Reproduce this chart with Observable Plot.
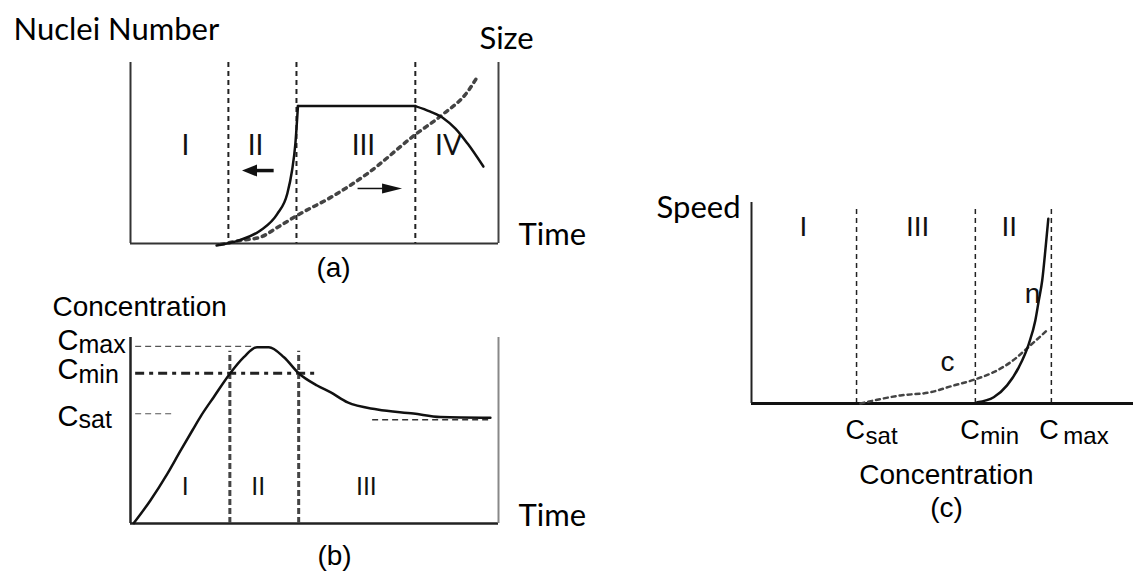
<!DOCTYPE html>
<html>
<head>
<meta charset="utf-8">
<script src="https://cdn.jsdelivr.net/npm/d3@7"></script>
<script src="https://cdn.jsdelivr.net/npm/@observablehq/plot@0.6"></script>
<style>
  html, body { margin: 0; padding: 0; background: #fff; }
  #fig { position: relative; width: 1133px; height: 573px; overflow: hidden; background: #fff; }
</style>
</head>
<body>
<div id="fig"></div>
<script>
// ================= DATA =================
// ---- Panel (a): nuclei number / size vs time ----
const phaseBoundsA = [26.6, 45.1, 77.4];
const phaseNamesA = ["I", "II", "III", "IV"];
const phaseNameXA = [14.9, 34, 63.3, 86.4];
const phaseNameYA = 54;
const nucleiTime = [23.4, 29.9, 35.3, 39.9, 42.6, 43.9, 44.8, 45.5, 45.5, 77.4, 77.4, 81.5, 85.1, 88.3, 91.6, 95.9];
const nucleiNum  = [-1.1, 2.0, 7.2, 16.4, 27.5, 40.3, 55.1, 75.9, 75.9, 75.9, 75.9, 72.8, 69.1, 63.5, 55.2, 42.5];
const nucleiSeg  = ["growth", "growth", "growth", "growth", "growth", "growth", "growth", "growth",
                    "plateau", "plateau", "ripening", "ripening", "ripening", "ripening", "ripening", "ripening"];
const sizeTime = [24.5, 29.9, 35.3, 40, 45.3, 55.3, 64.3, 77.4, 85.1, 91.5, 94.2];
const sizeVal  = [-0.5, 1.7, 3.5, 9, 15.5, 26.5, 38.5, 60.2, 71.7, 83.6, 91.9];
const arrowFromA = [38.9, 61.7];
const arrowShaftToA = [33.0, 68.5];
const arrowTipA = [30.3, 73.8];
const arrowYA = [40.3, 30.4];

// ---- Panel (b): concentration vs time ----
const phaseBoundsB = [27, 45.7];
const phaseTopB = 92.6;
const phaseNamesB = ["I", "II", "III"];
const phaseNameXB = [14.9, 34.7, 64.1];
const phaseNameYB = 19.5;
const cLevelNamesB = ["max", "min", "sat"];
const cLevelsB = [95.2, 80.8, 59.0];
const cLineFromB = [1.4, 1.4, 1.4];
const cLineToB = [33.4, 50.8, 12.2];
const satPlateauB = 55.8;
const satPlateauFromB = 65.8;
const satPlateauToB = 98.4;
const timeB = [0.9, 5.4, 10, 13.6, 16.8, 19.2, 22.6, 27, 30.8, 34.4, 37.6, 41.7, 45.7, 50.7, 54.3, 59, 67.1, 76.9, 84.2, 97.8];
const concB = [0.2, 12.4, 26.7, 39.2, 50, 58, 67.9, 80.5, 89.4, 94.8, 94.8, 89.4, 80.8, 74.2, 70.6, 65.1, 61.3, 59.1, 57.2, 56.8];

// ---- Panel (c): speed vs concentration ----
const cLevelNamesC = ["sat", "min", "max"];
const cLevelsC = [27.5, 58.6, 78.5];
const cLevelTopC = 97;
const phaseNamesC = ["I", "III", "II"];
const phaseNameXC = [13.6, 43.5, 67.5];
const phaseNameYC = 87.6;
const nucX = [59.1, 63.4, 66.9, 70, 72.6, 74.3, 75.2, 76.1, 77, 77.7];
const nucY = [0.6, 3.1, 9, 18.1, 29.7, 41.3, 51.2, 61.2, 77.8, 91.9];
const crysX = [28.5, 39, 46.9, 52.1, 58.2, 63.4, 67.8, 73, 77.8];
const crysY = [0, 4, 5.6, 8.5, 11.8, 15.6, 20.5, 28.9, 37.2];
const curveNamesC = ["n", "c"];
const curveNameXC = [73.6, 51.3];
const curveNameYC = [54.7, 20.4];

// ================= STYLES =================
const CAL = "Lato, 'Open Sans', sans-serif";
const ARIAL = "'Liberation Sans', Arial, sans-serif";
const fig = document.getElementById("fig");
const pos = (l, t) => ({position: "absolute", left: l + "px", top: t + "px", background: "transparent", overflow: "visible"});

// custom filled arrow heads (tip at origin)
const headLeft = {draw(ctx) { ctx.moveTo(0, 0); ctx.lineTo(15, -6); ctx.lineTo(15, 6); ctx.closePath(); }};
const headRight = {draw(ctx) { ctx.moveTo(0, 0); ctx.lineTo(-20, -5); ctx.lineTo(-20, 5); ctx.closePath(); }};

// ================= PANEL (a) =================
const plotA = Plot.plot({
  width: 600, height: 290,
  marginLeft: 130, marginRight: 102, marginTop: 62, marginBottom: 47,
  x: {domain: [0, 100], axis: null},
  y: {domain: [0, 100], axis: null},
  style: pos(0, 0),
  marks: [
    Plot.ruleY([0], {stroke: "#333", strokeWidth: 2}),
    Plot.ruleX([0], {stroke: "#333", strokeWidth: 2}),
    Plot.ruleX([100], {stroke: "#444", strokeWidth: 2}),
    Plot.ruleX(phaseBoundsA, {stroke: "#222", strokeWidth: 2, strokeDasharray: "5,4"}),
    Plot.line(sizeVal, {x: sizeTime, y: sizeVal, curve: "monotone-x", stroke: "#444", strokeWidth: 3.5, strokeDasharray: "3.5,5"}),
    Plot.line(nucleiNum, {x: nucleiTime, y: nucleiNum, z: nucleiSeg, curve: "monotone-x", stroke: "#111", strokeWidth: 2.5}),
    Plot.link(arrowYA, {x1: arrowFromA, x2: arrowShaftToA, y1: arrowYA, y2: arrowYA, stroke: "#111", strokeWidth: [3.5, 1.5]}),
    Plot.dot([arrowYA[0]], {x: [arrowTipA[0]], y: [arrowYA[0]], symbol: headLeft, fill: "#111", stroke: "none"}),
    Plot.dot([arrowYA[1]], {x: [arrowTipA[1]], y: [arrowYA[1]], symbol: headRight, fill: "#111", stroke: "none"}),
    Plot.text(phaseNamesA, {x: phaseNameXA, y: phaseNameYA, fontSize: 28, fontFamily: CAL, fill: "#111"}),
    Plot.text(["Nuclei Number"], {frameAnchor: "top-left", textAnchor: "start", lineAnchor: "bottom", dx: -117, dy: -23, fontSize: 31, fontFamily: CAL, fill: "#000"}),
    Plot.text(["Size"], {frameAnchor: "top-right", textAnchor: "start", lineAnchor: "bottom", dx: -19, dy: -14, fontSize: 31, fontFamily: CAL, fill: "#000"}),
    Plot.text(["Time"], {frameAnchor: "bottom-right", textAnchor: "start", lineAnchor: "bottom", dx: 20, dy: 1, fontSize: 31, fontFamily: CAL, fill: "#000"}),
    Plot.text(["(a)"], {frameAnchor: "bottom", lineAnchor: "middle", dx: 19, dy: 25, fontSize: 28, fontFamily: ARIAL, fill: "#000"})
  ]
});
fig.appendChild(plotA);

// ================= PANEL (b) =================
const cDyB = [-6, -3, 3];
const subDyB = [-1, 2, 6];
const plotB = Plot.plot({
  width: 600, height: 283,
  marginLeft: 130, marginRight: 102, marginTop: 47, marginBottom: 50,
  x: {domain: [0, 100], axis: null},
  y: {domain: [0, 100], axis: null},
  style: pos(0, 290),
  marks: [
    Plot.ruleY([0], {stroke: "#222", strokeWidth: 2.5}),
    Plot.ruleX([0], {stroke: "#222", strokeWidth: 2.5}),
    Plot.ruleX([100], {stroke: "#888", strokeWidth: 2}),
    Plot.ruleY([cLevelsB[0]], {x1: cLineFromB[0], x2: cLineToB[0], stroke: "#555", strokeWidth: 1.2, strokeDasharray: "6,4"}),
    Plot.ruleY([cLevelsB[1]], {x1: cLineFromB[1], x2: cLineToB[1], stroke: "#222", strokeWidth: 3, strokeDasharray: "9,5,4,5"}),
    Plot.ruleY([cLevelsB[2]], {x1: cLineFromB[2], x2: cLineToB[2], stroke: "#555", strokeWidth: 1.2, strokeDasharray: "6,4"}),
    Plot.ruleY([satPlateauB], {x1: satPlateauFromB, x2: satPlateauToB, stroke: "#333", strokeWidth: 1.5, strokeDasharray: "6,4"}),
    Plot.ruleX(phaseBoundsB, {y1: 0, y2: phaseTopB, stroke: "#444", strokeWidth: 3, strokeDasharray: "6,3"}),
    Plot.line(concB, {x: timeB, y: concB, curve: "monotone-x", stroke: "#111", strokeWidth: 2.5}),
    Plot.text(phaseNamesB, {x: phaseNameXB, y: phaseNameYB, fontSize: 25, fontFamily: ARIAL, fill: "#111"}),
    ...cLevelNamesB.flatMap((name, i) => [
      Plot.text(["C"], {x: [0], y: [cLevelsB[i]], textAnchor: "start", dx: -73, dy: cDyB[i], fontSize: 29, fontFamily: ARIAL, fill: "#000"}),
      Plot.text([name], {x: [0], y: [cLevelsB[i]], textAnchor: "start", dx: -52, dy: subDyB[i], fontSize: 25, fontFamily: ARIAL, fill: "#000"})
    ]),
    Plot.text(["Concentration"], {frameAnchor: "top-left", textAnchor: "start", lineAnchor: "bottom", dx: -78, dy: -22, fontSize: 28, fontFamily: ARIAL, fill: "#000"}),
    Plot.text(["Time"], {frameAnchor: "bottom-right", textAnchor: "start", lineAnchor: "bottom", dx: 20, dy: 2, fontSize: 31, fontFamily: CAL, fill: "#000"}),
    Plot.text(["(b)"], {frameAnchor: "bottom", lineAnchor: "middle", dx: 20, dy: 33, fontSize: 28, fontFamily: ARIAL, fill: "#000"})
  ]
});
fig.appendChild(plotB);

// ================= PANEL (c) =================
const cDxC = [-11, -15, -12];
const subDxC = [9, 5, 12];
const plotC = Plot.plot({
  width: 573, height: 393,
  marginLeft: 191, marginRight: 0, marginTop: 22, marginBottom: 170,
  x: {domain: [0, 100], axis: null},
  y: {domain: [0, 100], axis: null},
  style: pos(560, 180),
  marks: [
    Plot.ruleX(cLevelsC, {y1: 0, y2: cLevelTopC, stroke: "#222", strokeWidth: 1.5, strokeDasharray: "5,4"}),
    Plot.ruleY([0], {stroke: "#111", strokeWidth: 3}),
    Plot.ruleX([0], {stroke: "#222", strokeWidth: 2}),
    Plot.line(crysY, {x: crysX, y: crysY, curve: "monotone-x", stroke: "#444", strokeWidth: 2.5, strokeDasharray: "4,4"}),
    Plot.line(nucY, {x: nucX, y: nucY, curve: "monotone-x", stroke: "#111", strokeWidth: 2.5}),
    Plot.text(phaseNamesC, {x: phaseNameXC, y: phaseNameYC, fontSize: 28, fontFamily: ARIAL, fill: "#111"}),
    Plot.text(curveNamesC, {x: curveNameXC, y: curveNameYC, fontSize: 28, fontFamily: ARIAL, fill: "#111"}),
    ...cLevelNamesC.flatMap((name, i) => [
      Plot.text(["C"], {x: [cLevelsC[i]], y: [0], textAnchor: "start", dx: cDxC[i], dy: 26.5, fontSize: 27, fontFamily: ARIAL, fill: "#000"}),
      Plot.text([name], {x: [cLevelsC[i]], y: [0], textAnchor: "start", dx: subDxC[i], dy: 33, fontSize: 24, fontFamily: ARIAL, fill: "#000"})
    ]),
    Plot.text(["Speed"], {frameAnchor: "top-left", textAnchor: "end", lineAnchor: "bottom", dx: -11, dy: 15, fontSize: 31, fontFamily: CAL, fill: "#000"}),
    Plot.text(["Concentration"], {frameAnchor: "bottom", lineAnchor: "middle", dx: 4, dy: 72, fontSize: 28, fontFamily: ARIAL, fill: "#000"}),
    Plot.text(["(c)"], {frameAnchor: "bottom", lineAnchor: "middle", dx: 4, dy: 105, fontSize: 28, fontFamily: ARIAL, fill: "#000"})
  ]
});
fig.appendChild(plotC);
</script>
</body>
</html>
